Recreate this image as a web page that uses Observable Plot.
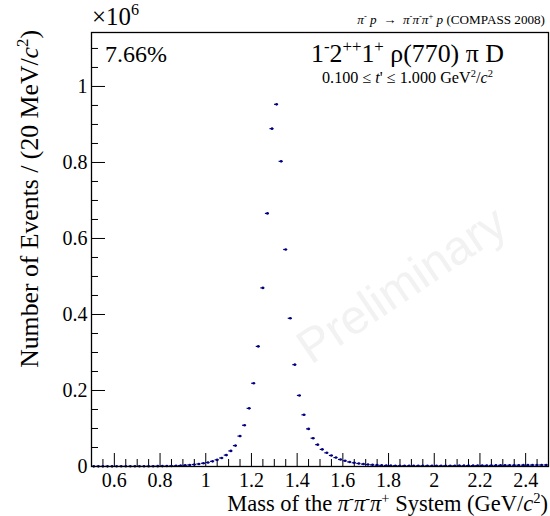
<!DOCTYPE html>
<html><head><meta charset="utf-8">
<script src="https://cdn.jsdelivr.net/npm/d3@7"></script>
<script src="https://cdn.jsdelivr.net/npm/@observablehq/plot@0.6"></script>
<style>html,body{margin:0;padding:0;background:#fff}svg{display:block}</style>
</head><body><div id="chart"></div>
<script>
// Bin centres (GeV/c^2), 20 MeV bins
const massGeV = [
0.51,0.53,0.55,0.57,0.59,0.61,0.63,0.65,0.67,0.69,0.71,0.73,0.75,0.77,0.79,0.81,0.83,
0.85,0.87,0.89,0.91,0.93,0.95,0.97,0.99,1.01,1.03,1.05,1.07,
1.09,1.11,1.13,1.15,1.17,1.19,1.21,1.23,1.25,1.27,1.29,
1.31,1.33,1.35,1.37,1.39,1.41,1.43,1.45,1.47,1.49,1.51,
1.53,1.55,1.57,1.59,1.61,1.63,1.65,1.67,1.69,1.71,1.73,1.75,1.77,1.79,1.81,1.83,
1.85,1.87,1.89,1.91,1.93,1.95,1.97,1.99,2.01,2.03,2.05,2.07,2.09,2.11,2.13,2.15,2.17,
2.19,2.21,2.23,2.25,2.27,2.29,2.31,2.33,2.35,2.37,2.39,2.41,2.43,2.45,2.47,2.49];
// Events per bin (x10^6)
const events = [
0.0004,0.0004,0.0004,0.0004,0.0004,0.0005,0.0005,0.0005,0.0005,0.0006,0.0006,0.0006,0.0007,0.0008,0.0009,0.0010,0.0012,
0.0015,0.0019,0.0024,0.0031,0.0040,0.0052,0.0066,0.0085,0.0105,0.0135,0.0175,0.0225,
0.0300,0.0410,0.0550,0.0800,0.1085,0.1530,0.2190,0.3160,0.4700,0.6660,0.8890,
0.9530,0.8030,0.5710,0.3900,0.2680,0.1870,0.1360,0.0990,0.0745,0.0575,0.0450,
0.0360,0.0290,0.0235,0.0185,0.0150,0.0120,0.0098,0.0080,0.0064,0.0052,0.0043,0.0036,0.0030,0.0026,0.0023,0.0021,
0.0020,0.0019,0.0018,0.0018,0.0018,0.0018,0.0018,0.0018,0.0019,0.0019,0.0020,0.0020,0.0021,0.0022,0.0022,0.0023,0.0024,
0.0025,0.0026,0.0027,0.0028,0.0029,0.0030,0.0031,0.0032,0.0033,0.0034,0.0035,0.0036,0.0037,0.0038,0.0039,0.0040];
const xTickLabels = [0.6,0.8,1.0,1.2,1.4,1.6,1.8,2.0,2.2,2.4];
const yTickLabels = [0,0.2,0.4,0.6,0.8,1.0];

const rows = massGeV.map((m, i) => ({m, n: events[i]}));
const xMinor = d3.range(11, 50).map(i => i * 0.05).filter(v => !xTickLabels.some(t => Math.abs(t - v) < 1e-6));
const yMinor = d3.range(1, 23).map(i => i * 0.05).filter(v => !yTickLabels.some(t => Math.abs(t - v) < 1e-6));

const W = 550, H = 516, mL = 91, mR = 2, mT = 32, mB = 50;
const fW = W - mL - mR, fH = H - mT - mB;
const serif = "'Liberation Serif','Times New Roman',serif";
const navy = "#000080";
const fmt = d => String(+d.toFixed(1));

const svg = Plot.plot({
  width: W, height: H,
  marginLeft: mL, marginRight: mR, marginTop: mT, marginBottom: mB,
  style: {fontFamily: serif, background: "white", color: "black"},
  x: {domain: [0.5, 2.5]},
  y: {domain: [0, 1.142]},
  marks: [
    Plot.text(["Preliminary"], {frameAnchor: "middle", dx: 82, dy: 36, rotate: -34, fontSize: 48,
      fill: "#f2f2f2", fontFamily: "'Liberation Sans',Arial,sans-serif"}),
    Plot.tickX(xMinor, {x: d => d, insetTop: fH - 7, stroke: "black"}),
    Plot.tickX(xTickLabels, {x: d => d, insetTop: fH - 13, stroke: "black"}),
    Plot.tickY(yMinor, {y: d => d, insetRight: fW - 7, stroke: "black"}),
    Plot.tickY(yTickLabels, {y: d => d, insetRight: fW - 14, stroke: "black"}),
    Plot.axisX({ticks: xTickLabels, tickSize: 0, tickPadding: 6, tickFormat: fmt, fontSize: 20, label: null, fill: "black", fontFamily: serif}),
    Plot.axisY({ticks: yTickLabels, tickSize: 0, tickPadding: 4, tickFormat: fmt, fontSize: 20, label: null, fill: "black", fontFamily: serif}),
    Plot.ruleY(rows, {x1: d => d.m - 0.009, x2: d => d.m + 0.009, y: "n", stroke: navy, strokeWidth: 1.2}),
    Plot.dot(rows, {x: "m", y: "n", r: 1.3, fill: navy, stroke: null}),
    Plot.frame({stroke: "black", strokeWidth: 1.3})
  ]
});
document.getElementById("chart").appendChild(svg);

const s = d3.select(svg);
function build(x, y, segs, size, anchor, transform, rise) {
  const t = s.append("text").attr("font-size", size)
    .attr("text-anchor", anchor || "start").attr("fill", "black")
    .style("font-family", serif);
  if (transform) t.attr("transform", transform); else t.attr("x", x).attr("y", y);
  let shift = 0;
  for (const g of segs) {
    const target = g.sup ? -size * rise : 0;
    const sp = t.append("tspan").text(g.t);
    if (target !== shift) sp.attr("dy", target - shift);
    shift = target;
    if (g.sup) sp.attr("font-size", size * 0.65);
    if (g.i) sp.attr("font-style", "italic");
  }
  return t;
}
// draw text and fit its font size so that it spans the width
function rich(x, y, segs, size, anchor, width, transform, rise = 0.4) {
  let t = build(x, y, segs, size, anchor, transform, rise);
  if (width) {
    const L = t.node().getComputedTextLength();
    if (L > 0) {
      t.remove();
      t = build(x, y, segs, size * width / L, anchor, transform, rise);
    }
  }
  return t;
}
// x10^6 multiplier
rich(92, 25, [{t: "\u00d710"}, {t: "6", sup: 1}], 22, "start", 47);
// process
rich(545, 24, [{t: "\u03c0", i: 1}, {t: "-", sup: 1}, {t: " "}, {t: "p", i: 1}, {t: "  \u2192  "},
  {t: "\u03c0", i: 1}, {t: "-", sup: 1}, {t: "\u03c0", i: 1}, {t: "-", sup: 1}, {t: "\u03c0", i: 1}, {t: "+", sup: 1},
  {t: " "}, {t: "p", i: 1}, {t: " (COMPASS 2008)"}], 12, "end", 188);
// fraction
rich(105, 62, [{t: "7.66%"}], 22, "start", 62);
// wave
rich(311, 62, [{t: "1"}, {t: "-", sup: 1}, {t: "2"}, {t: "++", sup: 1}, {t: "1"}, {t: "+", sup: 1},
  {t: " \u03c1(770) \u03c0 D"}], 23, "start", 193);
// t' range
rich(322, 83, [{t: "0.100 \u2264 "}, {t: "t", i: 1}, {t: "' \u2264 1.000 GeV"}, {t: "2", sup: 1},
  {t: "/"}, {t: "c", i: 1}, {t: "2", sup: 1}], 14, "start", 171);
// x title
rich(548, 511, [{t: "Mass of the "}, {t: "\u03c0", i: 1}, {t: "-", sup: 1}, {t: "\u03c0", i: 1}, {t: "-", sup: 1},
  {t: "\u03c0", i: 1}, {t: "+", sup: 1}, {t: " System (GeV/"}, {t: "c", i: 1}, {t: "2", sup: 1}, {t: ")"}], 22, "end", 321,
  null, 0.34);
// y title
rich(0, 0, [{t: "Number of Events / (20 MeV/"}, {t: "c", i: 1}, {t: "2", sup: 1}, {t: ")"}], 23, "end", 338,
  "translate(38,30) rotate(-90)");
</script>
</body></html>
